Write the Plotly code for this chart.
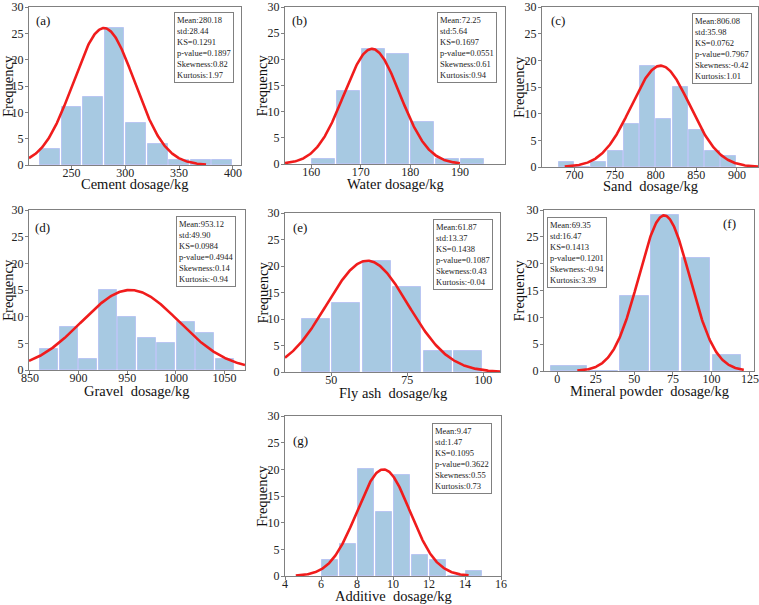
import numpy as np
import plotly.graph_objects as go

# ---------------- data ----------------
labels = ["(a)", "(b)", "(c)", "(d)", "(e)", "(f)", "(g)"]
x_titles = ["Cement dosage/kg", "Water dosage/kg", "Sand\u00a0 dosage/kg",
            "Gravel\u00a0 dosage/kg", "Fly ash\u00a0 dosage/kg",
            "Mineral powder\u00a0 dosage/kg", "Additive\u00a0 dosage/kg"]

edges_a = [220, 240, 260, 280, 300, 320, 340, 360, 380, 400]
counts_a = [3, 11, 13, 26, 8, 4, 1, 1, 1]
edges_b = [160, 165, 170, 175, 180, 185, 190, 195]
counts_b = [1, 14, 22, 21, 8, 1, 1]
edges_c = [680, 700, 720, 740, 760, 780, 800, 820, 840, 860, 880, 900]
counts_c = [1, 0, 1, 3, 8, 19, 9, 15, 7, 3, 2]
edges_d = [860, 880, 900, 920, 940, 960, 980, 1000, 1020, 1040, 1060]
counts_d = [4, 8, 2, 15, 10, 6, 5, 9, 7, 2]
edges_e = [40, 50, 60, 70, 80, 90, 100]
counts_e = [10, 13, 21, 16, 4, 4]
edges_f = [-5, 20, 40, 60, 80, 100, 120]
counts_f = [1, 0, 14, 29, 21, 3]
edges_g = [6, 7, 8, 9, 10, 11, 12, 13, 14, 15]
counts_g = [3, 6, 20, 12, 19, 4, 3, 0, 1]

fit_mean = [280.18, 172.25, 806.08, 953.12, 61.87, 69.35, 9.47]
fit_std = [28.44, 5.64, 35.98, 49.90, 13.37, 16.47, 1.47]
fit_peak = [26, 22, 19, 15, 21, 29, 20]
fit_start = [210.5, 154.7, 688, 849, 34.8, 13, 4.6]
fit_end = [375, 190, 926, 1071, 105.5, 121, 14.2]

stats_a = ["Mean:280.18", "std:28.44", "KS=0.1291", "p-value=0.1897", "Skewness:0.82", "Kurtosis:1.97"]
stats_b = ["Mean:72.25", "std:5.64", "KS=0.1697", "p-value=0.0551", "Skewness:0.61", "Kurtosis:0.94"]
stats_c = ["Mean:806.08", "std:35.98", "KS=0.0762", "p-value=0.7967", "Skewness:-0.42", "Kurtosis:1.01"]
stats_d = ["Mean:953.12", "std:49.90", "KS=0.0984", "p-value=0.4944", "Skewness:0.14", "Kurtosis:-0.94"]
stats_e = ["Mean:61.87", "std:13.37", "KS=0.1438", "p-value=0.1087", "Skewness:0.43", "Kurtosis:-0.04"]
stats_f = ["Mean:69.35", "std:16.47", "KS=0.1413", "p-value=0.1201", "Skewness:-0.94", "Kurtosis:3.39"]
stats_g = ["Mean:9.47", "std:1.47", "KS=0.1095", "p-value=0.3622", "Skewness:0.55", "Kurtosis:0.73"]

x_ticks = [[250, 300, 350, 400], [160, 170, 180, 190], [700, 750, 800, 850, 900],
           [850, 900, 950, 1000, 1050], [50, 75, 100], [0, 25, 50, 75, 100, 125],
           [4, 6, 8, 10, 12, 14, 16]]
y_ticks = [0, 5, 10, 15, 20, 25, 30]

edges_all = [edges_a, edges_b, edges_c, edges_d, edges_e, edges_f, edges_g]
counts_all = [counts_a, counts_b, counts_c, counts_d, counts_e, counts_f, counts_g]
stats_all = [stats_a, stats_b, stats_c, stats_d, stats_e, stats_f, stats_g]

# ---------------- layout geometry (pixels) ----------------
W, H = 759, 605
boxes = [(29, 241, 7, 165), (285, 505, 7, 164), (542, 758, 7, 167),
         (29, 245, 210, 370), (285, 500, 213, 372), (544, 754, 210, 371),
         (285, 501, 416, 576)]
x_ranges = [[210.5, 407.5], [154.7, 199.1], [660, 926], [849, 1071],
            [34.8, 105.5], [-8.6, 127.6], [4, 16]]
xtitle_y = [184, 184, 186, 391, 393, 391, 596]
ytitle_x = [8, 262, 519, 8, 262, 519, 262]
label_pos = [(42.5, 21), (299, 21), (557.5, 20), (42.5, 227), (299.5, 227), (729.5, 224), (300.5, 440)]
stat_anchor = [(234, 12, "right"), (497, 12, "right"), (752, 13, "right"),
               (236, 216, "right"), (493, 219, "right"), (547, 217, "left"), (492, 423, "right")]

FONT = "Liberation Serif, Times New Roman, serif"
BAR_FILL = "#a7c9e2"
BAR_LINE = "#b9c6f2"
AX = "#808080"

def px(x):
    return x / W

def py(y):
    return 1 - y / H

fig = go.Figure()
layout = dict(width=W, height=H, margin=dict(l=0, r=0, t=0, b=0, pad=0, autoexpand=False),
              paper_bgcolor="white", plot_bgcolor="white", showlegend=False,
              font=dict(family=FONT, color="#111"))
annotations = []

for i in range(7):
    n = i + 1
    xa = "x" if n == 1 else f"x{n}"
    ya = "y" if n == 1 else f"y{n}"
    e = np.array(edges_all[i], dtype=float)
    c = counts_all[i]
    centers = (e[:-1] + e[1:]) / 2
    widths = (e[1:] - e[:-1]) * 0.92
    fig.add_trace(go.Bar(x=centers, y=c, width=widths, xaxis=xa, yaxis=ya,
                         marker=dict(color=BAR_FILL, line=dict(color=BAR_LINE, width=1))))
    xs = np.linspace(fit_start[i], fit_end[i], 300)
    ys = fit_peak[i] * np.exp(-0.5 * ((xs - fit_mean[i]) / fit_std[i]) ** 2)
    fig.add_trace(go.Scatter(x=xs, y=ys, mode="lines", xaxis=xa, yaxis=ya,
                             line=dict(color="#f01c1c", width=2.6), cliponaxis=True))

    l, r, t, b = boxes[i]
    axcommon = dict(showline=True, linecolor=AX, linewidth=1, mirror=True,
                    ticks="outside", ticklen=3, tickcolor=AX, showgrid=False,
                    zeroline=False, automargin=False, ticklabeloverflow="allow",
                    showticklabels=True,
                    tickfont=dict(family=FONT, size=12, color="#222"))
    layout["xaxis" if n == 1 else f"xaxis{n}"] = dict(
        domain=[px(l), px(r)], anchor=ya, range=x_ranges[i],
        tickvals=x_ticks[i], ticklabelstandoff=-6, **axcommon)
    layout["yaxis" if n == 1 else f"yaxis{n}"] = dict(
        domain=[py(b), py(t)], anchor=xa, range=[0, 30],
        tickvals=y_ticks, ticklabelstandoff=-1, **axcommon)

    annotations.append(dict(text=x_titles[i], x=px((l + r) / 2), y=py(xtitle_y[i]),
                            xref="paper", yref="paper", showarrow=False,
                            xanchor="center", yanchor="middle",
                            font=dict(family=FONT, size=14.5, color="#111")))
    annotations.append(dict(text="Frequency", x=px(ytitle_x[i]), y=py((t + b) / 2),
                            xref="paper", yref="paper", showarrow=False, textangle=-90,
                            xanchor="center", yanchor="middle",
                            font=dict(family=FONT, size=14.5, color="#111")))
    lx, ly = label_pos[i]
    annotations.append(dict(text=labels[i], x=px(lx), y=py(ly), xref="paper", yref="paper",
                            showarrow=False, xanchor="center", yanchor="middle",
                            font=dict(family=FONT, size=13, color="#111")))
    sx, sy, anc = stat_anchor[i]
    annotations.append(dict(text="<br>".join(stats_all[i]), x=px(sx), y=py(sy),
                            xref="paper", yref="paper", showarrow=False,
                            xanchor=anc, yanchor="top", align="left",
                            bordercolor=AX, borderwidth=1, borderpad=2, bgcolor="white",
                            font=dict(family=FONT, size=8.5, color="#222")))

layout["annotations"] = annotations
layout["bargap"] = 0
fig.update_layout(**layout)
fig.write_html("out.html")
